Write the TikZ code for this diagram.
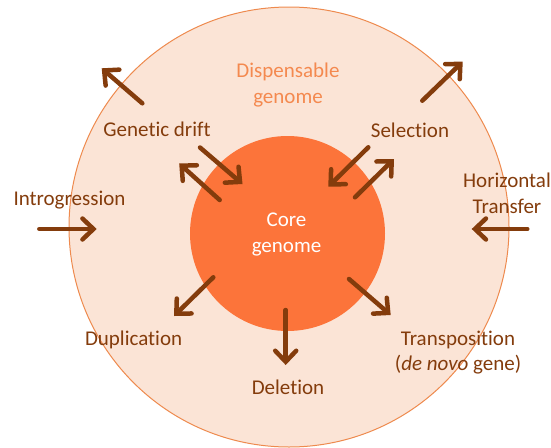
\documentclass[tikz,border=0pt]{standalone}
\usepackage{fontspec}
\setmainfont{Carlito}[Ligatures=NoCommon]
\usetikzlibrary{arrows.meta}
\definecolor{brownarrow}{HTML}{843C0C}
\definecolor{outerfill}{HTML}{FBE4D6}
\definecolor{outerline}{HTML}{EE8A4E}
\definecolor{innerfill}{HTML}{FC743A}
\definecolor{disptext}{HTML}{F4894F}
\tikzset{
  lbl/.style={text=brownarrow, font=\fontsize{21}{25.6}\selectfont, align=center, inner sep=0pt},
  arr/.style={draw=brownarrow, line width=4.5pt, line cap=round,
    -{Straight Barb[length=11pt,width=21pt,line cap=round,line join=miter]}},
}
\begin{document}
\begin{tikzpicture}[x=1pt,y=-1pt]
\useasboundingbox (0,0) rectangle (551,447);
\begin{scope}
\clip (0,0) rectangle (551,447);
\fill[outerfill] (289,227) circle[radius=220];
\draw[outerline, line width=1pt] (289,227) circle[radius=220];
\end{scope}
\fill[innerfill] (287.5,233.5) circle[radius=97.5];

\node[lbl, text=disptext] (disp) at (288,85) {Dispensable\\genome};
\node[lbl, text=white] (core) at (286.5,234.5) {Core\\genome};
\node[lbl] (drift) at (157,128.8) {Genetic drift};
\node[lbl] (sel) at (410,129.8) {Selection};
\node[lbl] (intro) at (69.5,200.5) {Introgression};
\node[lbl] (hgt) at (507,193) {Horizontal\\Transfer};
\node[lbl] (dup) at (133.6,339.5) {Duplication};
\node[lbl] (del) at (288,387) {Deletion};
\node[lbl] (trans) at (458,352.5) {Transposition\\(\textit{de novo} gene)};

\coordinate (a1s) at (142.3,103.3); \coordinate (a1e) at (101.7,68.3);
\coordinate (a2s) at (200,147.5);   \coordinate (a2e) at (242.5,184);
\coordinate (a3s) at (219.7,200);   \coordinate (a3e) at (179.2,163.5);
\coordinate (a4s) at (422.3,100.7); \coordinate (a4e) at (462.7,61.7);
\coordinate (a5s) at (368.3,147.3); \coordinate (a5e) at (328.3,186.7);
\coordinate (a6s) at (355,197.3);   \coordinate (a6e) at (394,159);
\coordinate (a7s) at (39.3,229);    \coordinate (a7e) at (96.7,229);
\coordinate (a8s) at (527.3,229);   \coordinate (a8e) at (471.7,229);
\coordinate (a9s) at (213.3,277.3); \coordinate (a9e) at (174,316);
\coordinate (a10s) at (285.7,310);  \coordinate (a10e) at (285.7,365);
\coordinate (a11s) at (349,279);    \coordinate (a11e) at (390.7,315);

\foreach \i in {1,...,11}{\draw[arr] (a\i s) -- (a\i e);}
\end{tikzpicture}
\end{document}
